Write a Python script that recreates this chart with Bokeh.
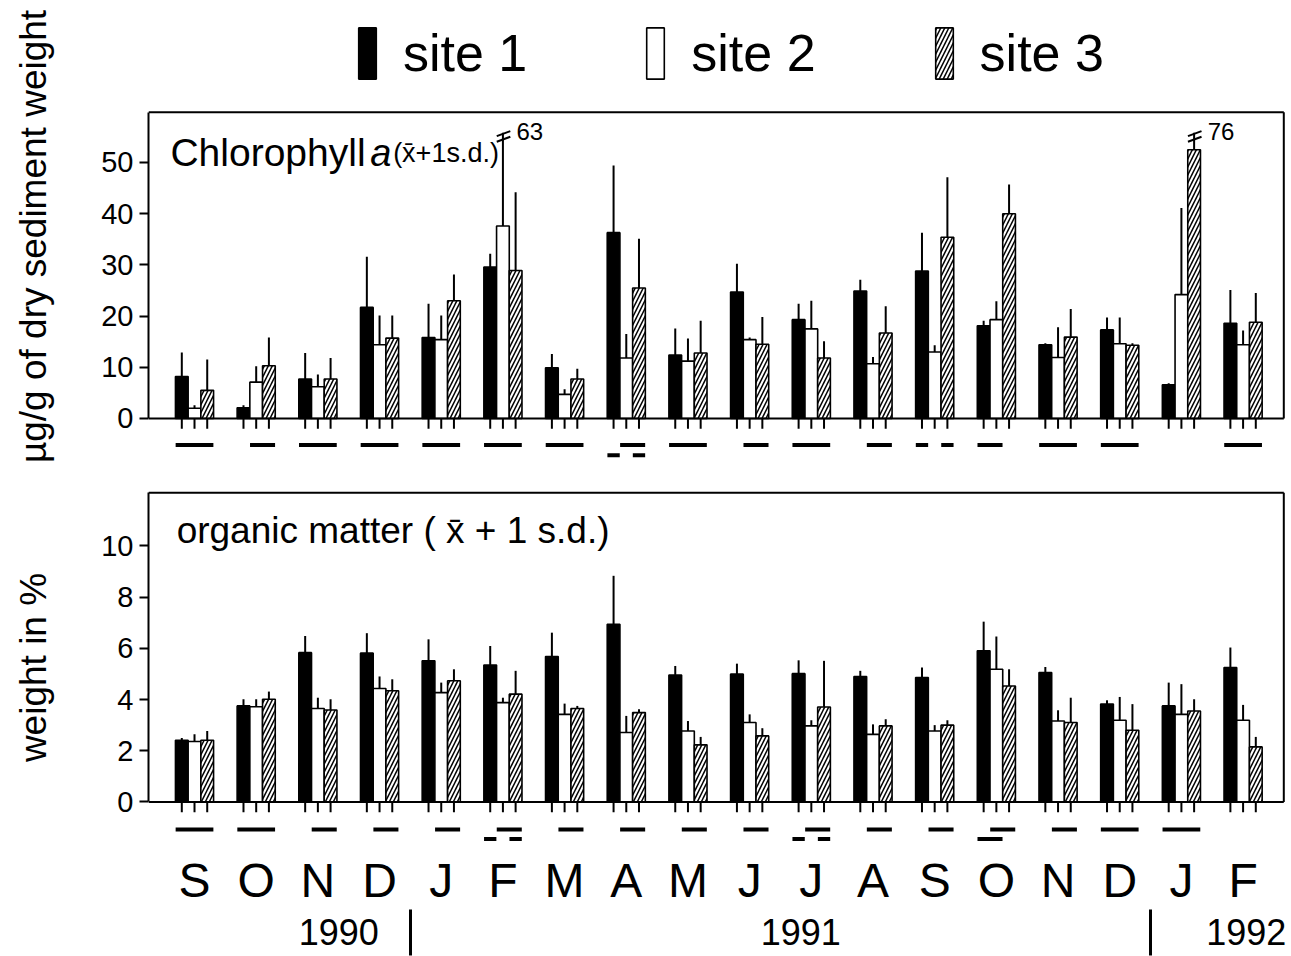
import math
from bokeh.plotting import figure
from bokeh.models import Range1d, FixedTicker, Label, Legend, LegendItem, LinearAxis
from bokeh.layouts import column
from bokeh.embed import file_html
from bokeh.resources import INLINE

# ---------------- data ----------------
months = ["S", "O", "N", "D", "J", "F", "M", "A", "M", "J", "J", "A", "S", "O", "N", "D", "J", "F"]
site_names = ["site 1", "site 2", "site 3"]
years = ["1990", "1991", "1992"]

# Chlorophyll a (ug/g dry sediment): mean and 1 s.d.
chl_site1 = [8.2, 2.1, 7.7, 21.7, 15.8, 29.6, 9.9, 36.3, 12.4, 24.7, 19.3, 24.9, 28.8, 18.1, 14.4, 17.3, 6.6, 18.6]
chl_site1_sd = [4.7, 0.5, 5.1, 9.9, 6.6, 2.6, 2.7, 13.1, 5.2, 5.5, 3.1, 2.2, 7.5, 1.0, 0.3, 2.4, 0.3, 6.5]
chl_site2 = [2.0, 7.1, 6.2, 14.4, 15.4, 37.6, 4.7, 11.8, 11.2, 15.4, 17.5, 10.7, 13.0, 19.3, 11.9, 14.6, 24.2, 14.4]
chl_site2_sd = [0.6, 3.1, 2.4, 5.7, 4.7, 25.4, 1.0, 4.7, 4.4, 0.4, 5.5, 1.3, 1.3, 3.6, 5.9, 5.1, 16.9, 2.8]
chl_site3 = [5.5, 10.3, 7.7, 15.7, 23.0, 28.9, 7.7, 25.5, 12.8, 14.5, 11.8, 16.7, 35.4, 40.0, 15.9, 14.3, 52.5, 18.8]
chl_site3_sd = [6.0, 5.5, 4.1, 4.4, 5.1, 15.3, 2.0, 9.6, 6.3, 5.3, 3.3, 5.2, 11.7, 5.7, 5.5, 0.4, 23.5, 5.7]

# Organic matter (weight %): mean and 1 s.d.
om_site1 = [2.41, 3.75, 5.83, 5.81, 5.51, 5.35, 5.68, 6.94, 4.96, 4.99, 5.01, 4.90, 4.86, 5.90, 5.05, 3.82, 3.75, 5.25]
om_site1_sd = [0.09, 0.26, 0.65, 0.78, 0.84, 0.74, 0.93, 1.89, 0.35, 0.41, 0.52, 0.22, 0.39, 1.14, 0.22, 0.15, 0.91, 0.78]
om_site2 = [2.36, 3.72, 3.65, 4.43, 4.27, 3.88, 3.42, 2.71, 2.77, 3.10, 2.97, 2.64, 2.77, 5.18, 3.16, 3.19, 3.42, 3.19]
om_site2_sd = [0.28, 0.29, 0.42, 0.47, 0.39, 0.19, 0.42, 0.65, 0.39, 0.32, 0.22, 0.39, 0.23, 1.28, 0.42, 0.91, 1.18, 0.60]
om_site3 = [2.41, 4.01, 3.59, 4.34, 4.73, 4.21, 3.65, 3.49, 2.23, 2.58, 3.71, 2.97, 3.00, 4.53, 3.10, 2.80, 3.55, 2.15]
om_site3_sd = [0.36, 0.30, 0.42, 0.45, 0.45, 0.91, 0.10, 0.13, 0.31, 0.30, 1.80, 0.26, 0.19, 0.65, 0.97, 1.02, 0.46, 0.39]

# non-significant groupings drawn under each month: (month, row, first site, last site)
chl_groups = [(0, 0, 0, 2), (1, 0, 1, 2), (2, 0, 0, 2), (3, 0, 0, 2), (4, 0, 0, 2), (5, 0, 0, 2),
              (6, 0, 0, 2), (7, 0, 1, 2), (7, 1, 0, 0), (7, 1, 2, 2), (8, 0, 0, 2), (9, 0, 1, 2),
              (10, 0, 0, 2), (11, 0, 1, 2), (12, 0, 0, 0), (12, 0, 2, 2), (13, 0, 0, 1),
              (14, 0, 0, 2), (15, 0, 0, 2), (17, 0, 0, 2)]
om_groups = [(0, 0, 0, 2), (1, 0, 0, 2), (2, 0, 1, 2), (3, 0, 1, 2), (4, 0, 1, 2), (5, 0, 1, 2),
             (5, 1, 0, 0), (5, 1, 2, 2), (6, 0, 1, 2), (7, 0, 1, 2), (8, 0, 1, 2), (9, 0, 1, 2),
             (10, 0, 1, 2), (10, 1, 0, 0), (10, 1, 2, 2), (11, 0, 1, 2), (12, 0, 1, 2),
             (13, 0, 1, 2), (13, 1, 0, 1), (14, 0, 1, 2), (15, 0, 0, 2), (16, 0, 0, 2)]

# ---------------- styling ----------------
FONT = "Liberation Sans"
BW = 0.206          # bar width (in month units)
XR = (-0.746, 17.72)
XBOX = 17.66
fills = ["black", "white", "white"]
hatches = [None, None, "/"]


def base_fig(height, yr, top, bottom):
    p = figure(width=1291, height=height, x_range=Range1d(*XR), y_range=Range1d(*yr),
               output_backend="svg", toolbar_location=None,
               min_border_left=148, min_border_right=4, min_border_top=top, min_border_bottom=bottom)
    p.xgrid.visible = False
    p.ygrid.visible = False
    p.outline_line_color = None
    p.background_fill_color = "white"
    p.border_fill_color = "white"
    ax = p.yaxis[0]
    ax.axis_line_width = 2
    ax.major_tick_line_width = 2
    ax.major_tick_in = 0
    ax.major_tick_out = 9
    ax.minor_tick_line_color = None
    ax.major_label_text_font = FONT
    ax.major_label_text_font_size = "29px"
    ax.major_label_text_color = "black"
    ax.major_label_standoff = 6
    ax.axis_line_color = "black"
    ax.major_tick_line_color = "black"
    ax.axis_label_text_font = FONT
    ax.axis_label_text_font_size = "37px"
    ax.axis_label_text_font_style = "normal"
    ax.axis_label_text_color = "black"
    ax.axis_label_standoff = 44
    return p


def draw_panel(p, means, sds, ymax_box, cap, tick_len, row_y, groups, break_dy, break_font):
    renderers = []
    for s in range(3):
        xs = [i + (s - 1) * BW for i in range(len(months))]
        kw = dict(fill_color=fills[s], line_color="black", line_width=1.6)
        if hatches[s]:
            kw.update(hatch_pattern=hatches[s], hatch_color="black", hatch_scale=8, hatch_weight=1.5)
        r = p.vbar(x=xs, width=BW, top=means[s], bottom=0, **kw)
        renderers.append(r)
        ups = [m + d for m, d in zip(means[s], sds[s])]
        p.segment(x0=xs, y0=means[s], x1=xs, y1=[min(u, cap) for u in ups],
                  line_color="black", line_width=2)
        p.segment(x0=xs, y0=[0] * len(xs), x1=xs, y1=[-tick_len] * len(xs),
                  line_color="black", line_width=2)
        for x, u in zip(xs, ups):
            if u > cap:
                for k in (0, 1):
                    p.segment(x0=[x - 0.1], y0=[cap - break_dy * 0.6 - k * break_dy],
                              x1=[x + 0.12], y1=[cap + break_dy * 0.3 - k * break_dy],
                              line_color="black", line_width=2)
                p.add_layout(Label(x=x + 0.22, y=cap + 0.3, text=f"{round(u)}", text_font=FONT,
                                   text_font_size=break_font, text_baseline="middle",
                                   text_color="black"))
    # frame box
    p.segment(x0=[XR[0], XR[0], XBOX], y0=[0, ymax_box, 0], x1=[XBOX, XBOX, XBOX],
              y1=[0, ymax_box, ymax_box], line_color="black", line_width=2)
    # grouping underlines
    gx0 = [g[0] + (g[2] - 1) * BW - 0.1 for g in groups]
    gx1 = [g[0] + (g[3] - 1) * BW + 0.1 for g in groups]
    gy = [row_y[g[1]] for g in groups]
    p.segment(x0=gx0, y0=gy, x1=gx1, y1=gy, line_color="black", line_width=4)
    return renderers


# ---------------- top panel ----------------
p1 = base_fig(478, (-10.55, 81.64), 0, 6)
p1.xaxis.visible = False
p1.yaxis.ticker = FixedTicker(ticks=[0, 10, 20, 30, 40, 50])
p1.yaxis.bounds = (0, 59.8)
p1.yaxis.axis_label = "µg/g of dry sediment weight"
rs = draw_panel(p1, [chl_site1, chl_site2, chl_site3], [chl_site1_sd, chl_site2_sd, chl_site3_sd],
                59.8, 55.8, 2.0, [-5.2, -7.2], chl_groups, 1.1, "24px")

p1.add_layout(Label(x=-0.39, y=51.9, text="Chlorophyll", text_font=FONT, text_font_size="39px",
                    text_baseline="middle", text_color="black"))
p1.add_layout(Label(x=2.85, y=51.9, text="a", text_font=FONT, text_font_size="38px",
                    text_font_style="italic", text_baseline="middle", text_color="black"))
p1.add_layout(Label(x=3.22, y=51.9, text="(x\u0304+1s.d.)", text_font=FONT, text_font_size="27px",
                    text_baseline="middle", text_color="black"))

legend = Legend(items=[LegendItem(label=site_names[i], renderers=[rs[i]]) for i in range(3)],
                orientation="horizontal", location=(208, 387), glyph_width=22, glyph_height=64,
                label_text_font=FONT, label_text_font_size="52px", label_standoff=25,
                spacing=117, padding=0, margin=0, border_line_color=None,
                background_fill_alpha=0, label_text_color="black")
p1.add_layout(legend, "center")

# ---------------- bottom panel ----------------
p2 = base_fig(478, (-1.7, 12.2), 11, 111)
p2.yaxis.ticker = FixedTicker(ticks=[0, 2, 4, 6, 8, 10])
p2.yaxis.bounds = (0, 12.07)
p2.yaxis.axis_label = "weight in %"
xa = p2.xaxis[0]
xa.ticker = FixedTicker(ticks=list(range(len(months))))
xa.major_label_overrides = {i: m for i, m in enumerate(months)}
xa.axis_line_color = None
xa.major_tick_line_color = None
xa.minor_tick_line_color = None
xa.major_label_text_font = FONT
xa.major_label_text_font_size = "48px"
xa.major_label_text_color = "black"
xa.major_label_standoff = 2
draw_panel(p2, [om_site1, om_site2, om_site3], [om_site1_sd, om_site2_sd, om_site3_sd],
           12.07, 12.0, 0.4, [-1.08, -1.45], om_groups, 0.2, "24px")

p2.add_layout(Label(x=-0.29, y=10.6, text="organic matter ( x\u0304 + 1 s.d.)", text_font=FONT,
                    text_font_size="37px", text_baseline="middle", text_color="black"))

# year labels and year separators as extra axes below the month axis
year_x = [2.34, 9.83, 17.05]
year_sep = [3.5, 15.5]
ya = LinearAxis(ticker=FixedTicker(ticks=year_x),
                major_label_overrides={x: t for x, t in zip(year_x, years)},
                axis_line_color=None, major_tick_line_color=None, minor_tick_line_color=None,
                major_label_standoff=3, major_label_text_font=FONT,
                major_label_text_font_size="36px", major_label_text_color="black")
p2.add_layout(ya, "below")
sa = LinearAxis(ticker=FixedTicker(ticks=year_sep),
                major_label_overrides={x: "" for x in year_sep},
                axis_line_color=None, major_tick_in=38, major_tick_out=8,
                major_tick_line_width=3, major_tick_line_color="black",
                minor_tick_line_color=None, major_label_standoff=0,
                major_label_text_font_size="1px")
p2.add_layout(sa, "below")

layout = column(p1, p2, spacing=0)
open("out.html", "w").write(file_html(layout, INLINE))
